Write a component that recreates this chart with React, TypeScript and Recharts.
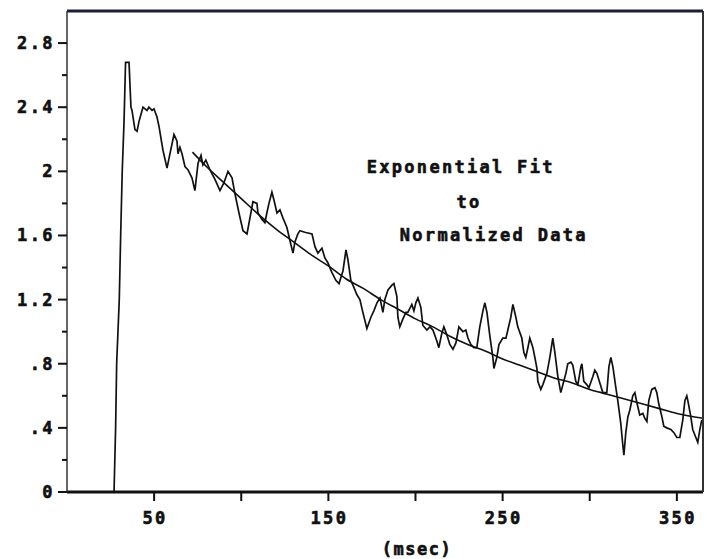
import React from "react";
import {
  LineChart,
  Line,
  XAxis,
  YAxis,
  ReferenceDot,
} from "recharts";

// normalized response (time in msec)
const sampleMs = [
  0, 27, 27.9, 28.5, 30, 30.8, 31.7, 32.7, 33.3, 33.6, 35.6, 36.1, 36.7, 37.3, 39.0, 40.2, 41.3, 43.6, 45.9, 47.0,
  48.8, 49.9, 51.6, 52.8, 55.1, 57.4, 59.1, 61.4, 63.1, 63.7, 64.8, 66.0, 67.7, 69.4, 71.7, 73.4, 75.2, 76.9, 78.0, 79.7,
  82.0, 84.9, 87.8, 90.1, 92.4, 94.7, 96.4, 98.7, 101.0, 103.3, 105.0, 106.7, 109.0, 109.6, 111.9, 113.6, 114.7, 115.9, 117.6, 118.8,
  120.5, 122.2, 123.9, 126.2, 127.9, 129.7, 130.8, 132.5, 133.7, 136.5, 140.6, 142.3, 144.0, 146.3, 148.0, 149.7, 152.0, 154.3, 156.1, 158.4,
  160.1, 161.2, 162.9, 164.1, 166.4, 168.1, 169.8, 172.1, 174.4, 176.1, 177.9, 179.6, 181.3, 182.4, 184.2, 186.5, 187.6, 189.3, 189.9, 191.0,
  192.8, 194.5, 195.6, 197.9, 199.1, 200.2, 201.4, 203.1, 204.2, 206.5, 208.3, 210.0, 212.3, 213.4, 215.1, 216.3, 218.0, 219.7, 221.5, 223.2,
  224.9, 227.2, 228.9, 230.1, 231.8, 233.5, 235.2, 236.9, 238.7, 239.8, 241.0, 242.7, 244.4, 245.0, 246.7, 247.9, 250.1, 251.9, 253.0, 254.7,
  255.9, 257.6, 258.7, 261.0, 262.2, 263.3, 264.5, 265.6, 267.4, 268.5, 269.7, 270.2, 271.9, 273.1, 275.4, 277.1, 278.8, 280.0, 281.7, 283.4,
  284.6, 286.3, 287.4, 289.2, 290.3, 292.0, 293.2, 294.9, 295.5, 296.6, 298.3, 299.5, 301.8, 302.9, 304.1, 305.8, 307.5, 309.8, 311.0, 312.1,
  313.3, 315.0, 316.1, 317.8, 319.0, 319.6, 320.7, 321.9, 323.0, 324.7, 325.9, 327.0, 328.7, 330.5, 331.6, 332.8, 333.9, 335.6, 337.4, 338.5,
  339.6, 341.4, 342.5, 344.2, 346.5, 348.3, 350.0, 351.7, 353.4, 354.6, 355.7, 356.3, 358.0, 359.1, 360.9, 362.0, 363.2, 364.3,
];
const sampleNorm = [
  0, 0, 0.4, 0.8, 1.2, 1.6, 2.0, 2.3, 2.55, 2.68, 2.68, 2.55, 2.40, 2.38, 2.26, 2.25, 2.31, 2.40, 2.38, 2.40,
  2.38, 2.39, 2.34, 2.28, 2.13, 2.02, 2.11, 2.23, 2.19, 2.11, 2.15, 2.11, 2.03, 2.01, 1.96, 1.88, 2.05, 2.10, 2.04, 2.07,
  2.01, 1.95, 1.88, 1.93, 2.00, 1.96, 1.86, 1.74, 1.63, 1.61, 1.71, 1.81, 1.80, 1.74, 1.70, 1.68, 1.74, 1.80, 1.87, 1.82,
  1.74, 1.76, 1.71, 1.65, 1.57, 1.49, 1.56, 1.61, 1.63, 1.62, 1.61, 1.53, 1.49, 1.52, 1.46, 1.43, 1.37, 1.32, 1.30, 1.38,
  1.51, 1.45, 1.32, 1.29, 1.23, 1.20, 1.12, 1.02, 1.09, 1.13, 1.18, 1.21, 1.12, 1.20, 1.26, 1.29, 1.30, 1.22, 1.09, 1.03,
  1.08, 1.12, 1.12, 1.17, 1.13, 1.18, 1.21, 1.15, 1.04, 1.01, 1.03, 1.01, 0.94, 0.90, 0.99, 1.03, 0.98, 0.92, 0.89, 0.93,
  1.03, 1.00, 1.01, 0.96, 0.92, 0.90, 0.90, 1.03, 1.13, 1.18, 1.12, 0.97, 0.84, 0.77, 0.84, 0.92, 0.96, 0.96, 1.01, 1.09,
  1.17, 1.09, 1.03, 0.96, 0.87, 0.84, 0.90, 0.96, 0.90, 0.84, 0.77, 0.69, 0.64, 0.67, 0.74, 0.84, 0.96, 0.87, 0.72, 0.62,
  0.67, 0.74, 0.80, 0.81, 0.79, 0.69, 0.67, 0.78, 0.80, 0.69, 0.67, 0.65, 0.72, 0.76, 0.74, 0.68, 0.62, 0.62, 0.78, 0.84,
  0.78, 0.65, 0.57, 0.43, 0.29, 0.23, 0.37, 0.47, 0.51, 0.60, 0.62, 0.56, 0.48, 0.49, 0.46, 0.44, 0.57, 0.64, 0.65, 0.62,
  0.55, 0.47, 0.41, 0.40, 0.39, 0.37, 0.34, 0.34, 0.45, 0.57, 0.60, 0.57, 0.47, 0.39, 0.34, 0.31, 0.39, 0.45,
];

// exponential fit curve as drawn
const fitMs = [72, 80, 90, 100, 110, 120, 130, 140, 150, 160, 170, 180, 190, 200, 210, 220, 230, 240, 250, 260, 270, 280, 290, 300, 310, 320, 330, 340, 350, 365];
const fitNorm = [2.12, 2.03, 1.93, 1.83, 1.73, 1.64, 1.56, 1.48, 1.41, 1.33, 1.27, 1.20, 1.14, 1.08, 1.03, 0.97, 0.92, 0.88, 0.83, 0.79, 0.75, 0.71, 0.68, 0.64, 0.61, 0.58, 0.55, 0.52, 0.49, 0.46];

const xTicks = [50, 100, 150, 200, 250, 300, 350];
const yTicks = [0, 0.2, 0.4, 0.6, 0.8, 1.0, 1.2, 1.4, 1.6, 1.8, 2.0, 2.2, 2.4, 2.6, 2.8];

const notes = [
  { t: 172, v: 2.03, text: "Exponential Fit" },
  { t: 223.5, v: 1.81, text: "to" },
  { t: 191, v: 1.6, text: "Normalized Data" },
];

const signalData = sampleMs.map((t, i) => ({ t, v: sampleNorm[i] }));
const fitData = fitMs.map((t, i) => ({ t, v: fitNorm[i] }));

const FONT = "'DejaVu Sans Mono', 'Liberation Mono', monospace";
const INK = "#111";

// chunky bitmap-like lettering
const textStyle = {
  fontFamily: FONT,
  fontWeight: "bold",
  fontSize: 17,
  fill: INK,
  stroke: INK,
  strokeWidth: 0.6,
};

const fmtY = (v: number) => {
  if (v === 0) return "0";
  const s = String(Math.round(v * 10) / 10);
  return s.startsWith("0.") ? s.slice(1) : s;
};

const YTick = (props: any) => {
  const { x, y, payload } = props;
  const major = Math.round(payload.value * 10) % 4 === 0;
  return (
    <g>
      <line x1={x - (major ? 9 : 5)} x2={x} y1={y} y2={y} stroke={INK} strokeWidth={2} />
      {major && (
        <text x={x - 12} y={y + 6} textAnchor="end" letterSpacing={2.4} {...textStyle}>
          {fmtY(payload.value)}
        </text>
      )}
    </g>
  );
};

const XTick = (props: any) => {
  const { x, y, payload } = props;
  const labeled = (payload.value - 50) % 100 === 0;
  return (
    <g>
      <line x1={x} x2={x} y1={y} y2={y + 9} stroke={INK} strokeWidth={2} />
      {labeled && (
        <text x={x + 1} y={y + 32} textAnchor="middle" letterSpacing={2.4} {...textStyle}>
          {payload.value}
        </text>
      )}
    </g>
  );
};

const NoteText = (text: string) => (props: any) => (
  <text x={props.cx} y={props.cy} dominantBaseline="central" letterSpacing={2.3} {...textStyle}>
    {text}
  </text>
);

const MsecLabel = (props: any) => {
  const { viewBox } = props;
  return (
    <text
      x={viewBox.x + viewBox.width / 2 + 32}
      y={viewBox.y + viewBox.height - 4}
      textAnchor="middle"
      letterSpacing={1.5}
      {...textStyle}
    >
      (msec)
    </text>
  );
};

export default function App() {
  return (
    <div style={{ position: "absolute", left: 0, top: 0, background: "#fff" }}>
      <LineChart width={707} height={559} margin={{ top: 10, right: 3, left: 0, bottom: 0 }}>
        <XAxis
          dataKey="t"
          type="number"
          domain={[0, 365]}
          ticks={xTicks}
          interval={0}
          height={67}
          tickSize={0}
          tickMargin={0}
          tick={<XTick />}
          axisLine={{ stroke: INK, strokeWidth: 3 }}
          allowDataOverflow
          label={<MsecLabel />}
        />
        <XAxis
          xAxisId="top"
          orientation="top"
          type="number"
          domain={[0, 365]}
          height={1}
          tick={false}
          tickLine={false}
          axisLine={{ stroke: "#1c1c3c", strokeWidth: 3 }}
        />
        <YAxis
          type="number"
          domain={[0, 3]}
          ticks={yTicks}
          interval={0}
          width={67}
          tickSize={0}
          tickMargin={0}
          tick={<YTick />}
          axisLine={{ stroke: "#333", strokeWidth: 1.5 }}
          allowDataOverflow
        />
        <YAxis
          yAxisId="right"
          orientation="right"
          type="number"
          domain={[0, 3]}
          width={1}
          tick={false}
          tickLine={false}
          axisLine={{ stroke: "#333", strokeWidth: 2 }}
        />
        <Line
          data={fitData}
          dataKey="v"
          type="monotone"
          stroke={INK}
          strokeWidth={1.6}
          dot={false}
          isAnimationActive={false}
        />
        <Line
          data={signalData}
          dataKey="v"
          type="linear"
          stroke={INK}
          strokeWidth={1.7}
          dot={false}
          isAnimationActive={false}
        />
        {notes.map((n) => (
          <ReferenceDot key={n.text} x={n.t} y={n.v} r={1} shape={NoteText(n.text)} />
        ))}
      </LineChart>
    </div>
  );
}
